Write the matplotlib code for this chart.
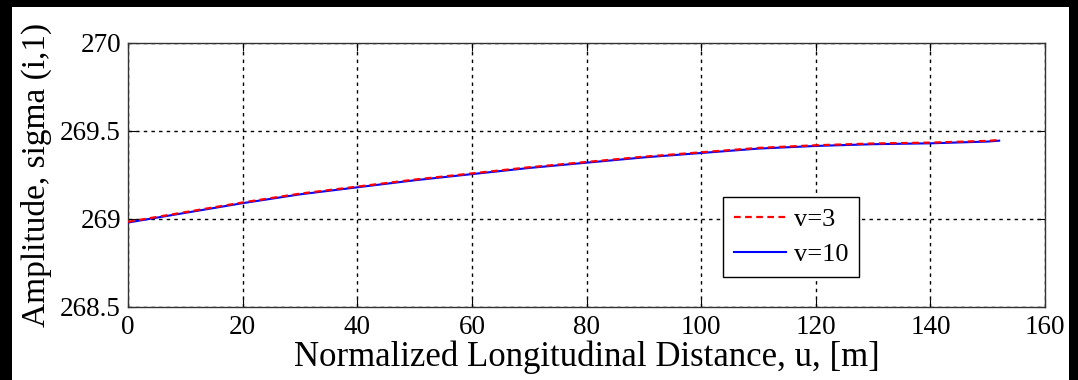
import matplotlib.pyplot as plt
from matplotlib.patches import Rectangle

# distance along the path, metres
u = [0, 10, 20, 30, 40, 50, 60, 70, 80, 90, 100, 110, 120, 130, 140, 150, 152]
# amplitude for v=10
sig_v10 = [268.98, 269.035, 269.09, 269.14, 269.18, 269.22, 269.255, 269.29, 269.32,
           269.35, 269.375, 269.40, 269.415, 269.425, 269.43, 269.44, 269.445]
# amplitude for v=3 (sits a hair above v=10)
sig_v3 = [268.984, 269.039, 269.094, 269.144, 269.184, 269.224, 269.259, 269.294, 269.324,
          269.354, 269.379, 269.404, 269.419, 269.429, 269.434, 269.444, 269.449]

plt.rcParams['font.family'] = ['Liberation Serif', 'DejaVu Serif']

fig = plt.figure(figsize=(10.78, 3.8), dpi=100, facecolor='black')
fig.patches.append(Rectangle((12 / 1078, 0), (1069 - 12) / 1078, 373 / 380,
                             transform=fig.transFigure, facecolor='white',
                             edgecolor='none', zorder=-10))

ax = fig.add_axes([128 / 1078, 73 / 380, 917 / 1078, 264 / 380])
ax.plot(u, sig_v10, color='blue', lw=1.5, label='v=10', zorder=3)
ax.plot(u, sig_v3, color='red', lw=1.6, ls=(0, (3, 2)), label='v=3', zorder=4)

ax.set_xlim(0, 160)
ax.set_ylim(268.5, 270)
ax.set_xticks(range(0, 161, 20))
ax.set_yticks([268.5, 269, 269.5, 270])
ax.set_yticklabels(['268.5', '269', '269.5', '270'])
ax.grid(True, color='black', ls=(0, (2.5, 3)), lw=1.0)
ax.tick_params(direction='in', top=True, right=True, length=6, labelsize=19.5)
ax.tick_params(axis='x', pad=6)
ax.tick_params(axis='y', pad=5)
for s in ax.spines.values():
    s.set_linewidth(1.0)
    s.set_color('#333333')

ax.set_xlabel('Normalized Longitudinal Distance, u, [m]', fontsize=25, labelpad=0)
ax.set_ylabel('Amplitude, sigma (i,1)', fontsize=24, labelpad=6)

h, l = ax.get_legend_handles_labels()
leg = ax.legend(h[::-1], l[::-1], loc='lower left', bbox_to_anchor=(0.649, 0.114),
                fontsize=19, fancybox=False, framealpha=1, edgecolor='black',
                borderaxespad=0, handlelength=2.0, handletextpad=0.3,
                borderpad=0.4, labelspacing=0.45)
leg.get_frame().set_linewidth(1.0)

fig.savefig('out.png', dpi=100, facecolor=fig.get_facecolor())
